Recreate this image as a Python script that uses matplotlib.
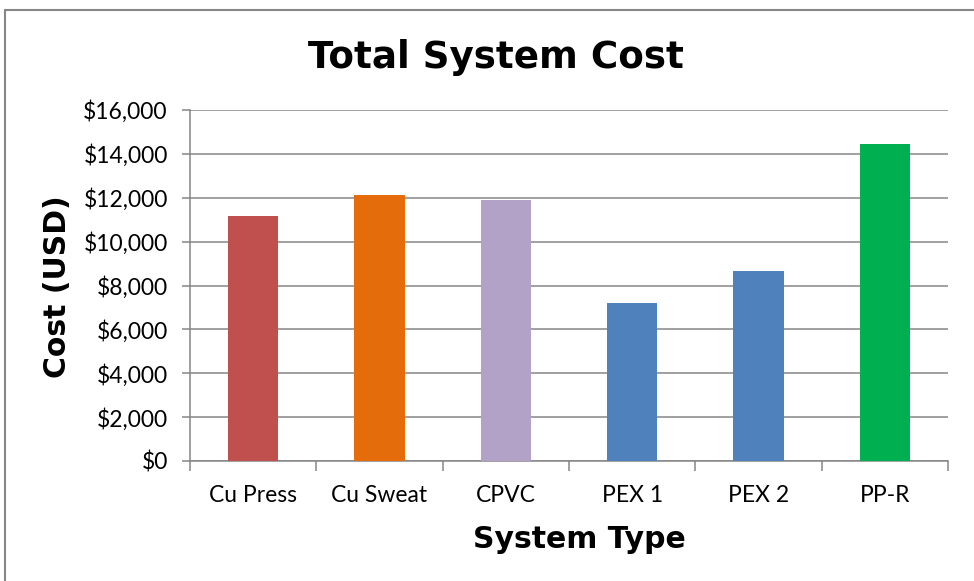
import matplotlib.pyplot as plt
from matplotlib.patches import Rectangle
from matplotlib.ticker import FuncFormatter, FixedLocator

systems = ["Cu Press", "Cu Sweat", "CPVC", "PEX 1", "PEX 2", "PP-R"]
costs = [11150, 12140, 11890, 7220, 8640, 14450]
colors = ["#C0504D", "#E46C0A", "#B2A2C7", "#4F81BD", "#4F81BD", "#00B050"]

tick_font = ["Lato", "DejaVu Sans"]
grid_col = "#868686"

fig = plt.figure(figsize=(9.74, 5.81), dpi=100)
ax = fig.add_axes([190/974, 120/581, 758/974, 351/581])

x = range(len(systems))
ax.bar(x, costs, width=0.4, color=colors, zorder=3)

ax.set_xlim(-0.5, len(systems) - 0.5)
ax.set_ylim(0, 16000)
ax.set_yticks(range(0, 16001, 2000))
ax.yaxis.set_major_formatter(FuncFormatter(lambda v, p: "${:,.0f}".format(v)))
ax.grid(axis="y", color=grid_col, linewidth=1.1, zorder=0)

ax.set_xticks(list(x))
ax.set_xticklabels(systems)
ax.xaxis.set_minor_locator(FixedLocator([i - 0.5 for i in range(len(systems) + 1)]))
ax.tick_params(axis="x", which="major", length=0, pad=17)
ax.tick_params(axis="x", which="minor", length=7, width=1.1, color=grid_col)
ax.tick_params(axis="y", length=6, width=1.1, color=grid_col, pad=10)
for lab in ax.get_xticklabels() + ax.get_yticklabels():
    lab.set_family(tick_font)
    lab.set_fontsize(16.5)

for s in ["top", "right"]:
    ax.spines[s].set_visible(False)
for s in ["left", "bottom"]:
    ax.spines[s].set_color(grid_col)
    ax.spines[s].set_linewidth(1.1)

fig.text(496/974, 1 - 57/581, "Total System Cost", ha="center", va="center",
         fontsize=26.8, fontweight="bold", family="DejaVu Sans")
fig.text(58/974, 1 - 287/581, "Cost (USD)", ha="center", va="center", rotation=90,
         fontsize=21.5, fontweight="bold", family="DejaVu Sans")
fig.text(579/974, 1 - 540/581, "System Type", ha="center", va="center",
         fontsize=21.5, fontweight="bold", family="DejaVu Sans")

# chart border (only left and top are visible in the crop)
fig.patches.append(Rectangle((5/974, -0.1), 1.2, 1 - 10/581 + 0.1, transform=fig.transFigure,
                             fill=False, edgecolor=grid_col, linewidth=1.5))

fig.savefig("out.png", dpi=100)
